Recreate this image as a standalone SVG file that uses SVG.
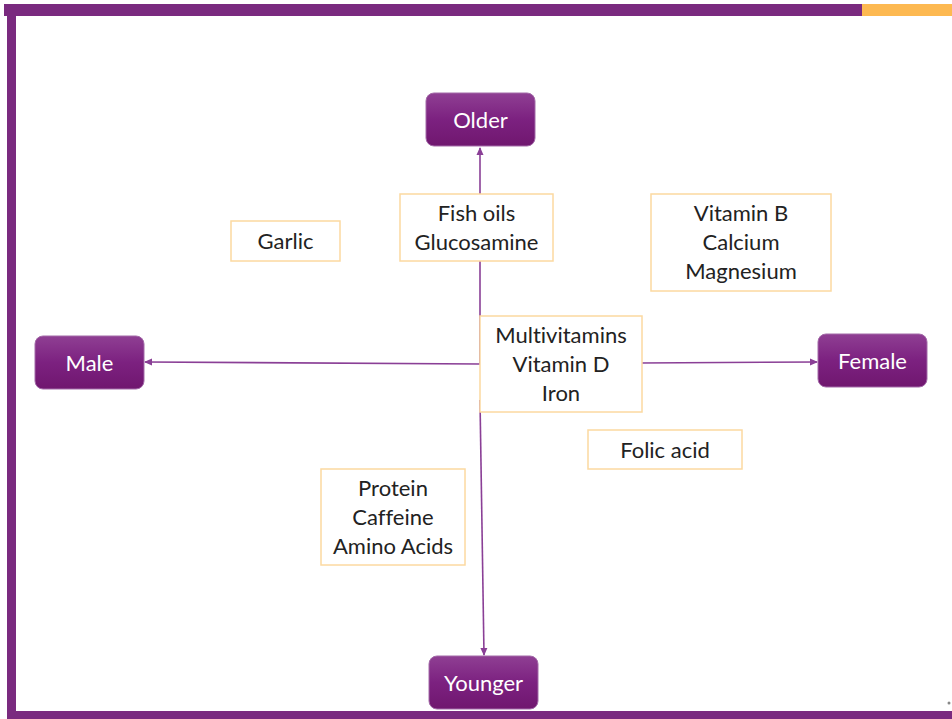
<svg xmlns="http://www.w3.org/2000/svg" width="952" height="719" viewBox="0 0 952 719">
<defs>
<linearGradient id="ng" x1="0" y1="0" x2="0" y2="1">
<stop offset="0" stop-color="#8f3f93"/>
<stop offset="0.5" stop-color="#7c2180"/>
<stop offset="1" stop-color="#70176f"/>
</linearGradient>
<marker id="ah" markerWidth="8" markerHeight="8" refX="7" refY="4" orient="auto" markerUnits="userSpaceOnUse">
<path d="M0,0.5 L8,4 L0,7.5 Z" fill="#8a3f96"/>
</marker>
</defs>
<style>
.node rect{fill:url(#ng);stroke:#a36aa8;stroke-width:1}
.node text{fill:#fff;font-family:Lato,"Open Sans",sans-serif;font-size:22px;text-anchor:middle;font-variant-ligatures:none}
.box rect{fill:#fff;stroke:#fcd9a0;stroke-width:1.5}
.box text{fill:#222;font-family:Lato,"Open Sans",sans-serif;font-size:22px;text-anchor:middle;font-variant-ligatures:none}
.conn line{stroke:#8a3f96;stroke-width:1.6;marker-end:url(#ah)}
</style>
<rect x="0" y="0" width="952" height="719" fill="#fff"/>
<rect x="4" y="4" width="858" height="12" fill="#7a2a7f"/>
<rect x="862" y="4" width="90" height="12" fill="#fdb951"/>
<rect x="7" y="4" width="9" height="715" fill="#7a2a7f"/>
<rect x="7" y="711" width="945" height="8" fill="#7a2a7f"/>
<circle cx="949" cy="703" r="1.5" fill="#888"/>
<g id="connectors" class="conn">
<line x1="480" y1="364" x2="480" y2="148"/>
<line x1="480" y1="364" x2="145" y2="362"/>
<line x1="640" y1="363" x2="817" y2="362"/>
<line x1="480" y1="400" x2="484" y2="655"/>
</g>
<g id="older" class="node"><rect x="426" y="93" width="109" height="53" rx="8"/><text x="480.5" y="127.5">Older</text></g>
<g id="male" class="node"><rect x="35" y="336" width="109" height="53" rx="8"/><text x="89.5" y="370.5">Male</text></g>
<g id="female" class="node"><rect x="818" y="334" width="109" height="53" rx="8"/><text x="872.5" y="368.5">Female</text></g>
<g id="younger" class="node"><rect x="429" y="656" width="109" height="53" rx="8"/><text x="483.5" y="690.5">Younger</text></g>
<g id="garlic" class="box"><rect x="231" y="221" width="109" height="40"/><text x="285.5" y="248.5">Garlic</text></g>
<g id="fish" class="box"><rect x="400" y="194" width="153" height="67"/><text x="476.5" y="220.5">Fish oils</text><text x="476.5" y="249.5">Glucosamine</text></g>
<g id="vitb" class="box"><rect x="651" y="194" width="180" height="97"/><text x="741" y="220.5">Vitamin B</text><text x="741" y="249.5">Calcium</text><text x="741" y="278.5">Magnesium</text></g>
<g id="multi" class="box"><rect x="480" y="316" width="162" height="96"/><text x="561" y="342.5">Multivitamins</text><text x="561" y="371.5">Vitamin D</text><text x="561" y="400.5">Iron</text></g>
<g id="folic" class="box"><rect x="588" y="430" width="154" height="39"/><text x="665" y="457.5">Folic acid</text></g>
<g id="protein" class="box"><rect x="321" y="469" width="144" height="96"/><text x="393" y="495.5">Protein</text><text x="393" y="524.5">Caffeine</text><text x="393" y="553.5">Amino Acids</text></g>
</svg>
